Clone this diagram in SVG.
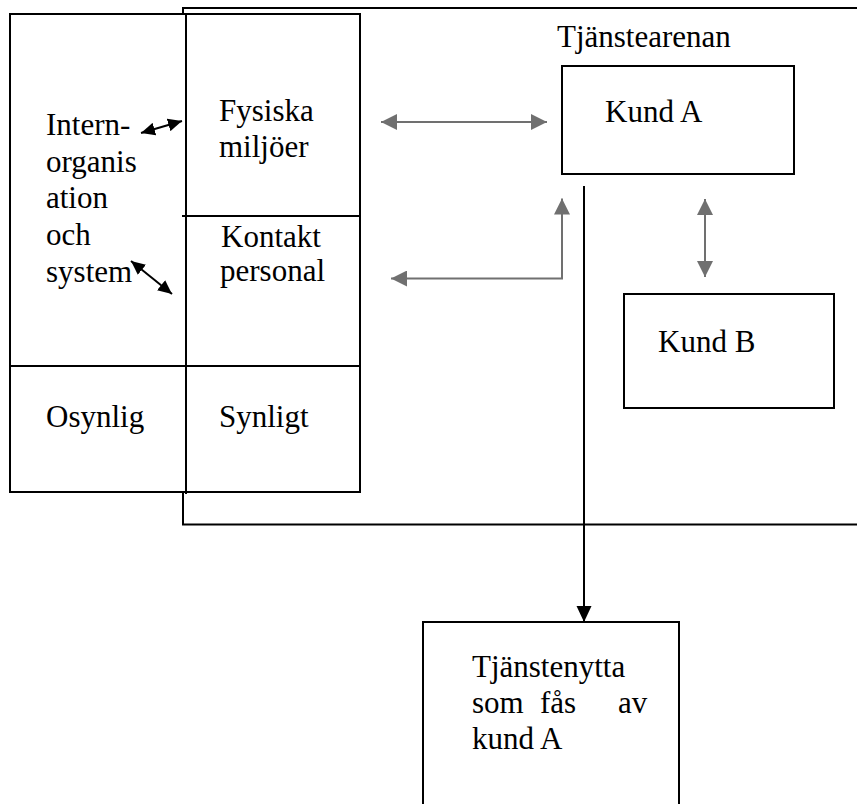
<svg xmlns="http://www.w3.org/2000/svg" width="857" height="804" viewBox="0 0 857 804">
<style>
text{font-family:'Liberation Serif','Times New Roman',Tinos,'Noto Serif','DejaVu Serif',serif;font-size:31px;fill:#000}
.b{fill:none;stroke:#000;stroke-width:2}
.w{fill:#fff;stroke:#000;stroke-width:2}
.g{fill:none;stroke:#707070;stroke-width:2}
.k{fill:none;stroke:#000;stroke-width:2}
</style>
<defs>
<marker id="ag" viewBox="0 0 16 16" refX="16" refY="8" markerWidth="16" markerHeight="16" markerUnits="userSpaceOnUse" orient="auto-start-reverse">
<path d="M0,0 L16,8 L0,16 Z" fill="#707070"/>
</marker>
<marker id="ak" viewBox="0 0 14 13" refX="14" refY="6.5" markerWidth="14" markerHeight="13" markerUnits="userSpaceOnUse" orient="auto-start-reverse">
<path d="M0,0 L14,6.5 L0,13 Z" fill="#000"/>
</marker>
<marker id="ad" viewBox="0 0 16 16" refX="16" refY="8" markerWidth="16" markerHeight="16" markerUnits="userSpaceOnUse" orient="auto">
<path d="M0,0.5 L16,8 L0,15.5 Z" fill="#000"/>
</marker>
</defs>

<g id="arena">
<path class="b" d="M857,8 H183 V524.5 H857"/>
<text x="557" y="47">Tjänstearenan</text>
</g>

<g id="organisation">
<rect class="w" x="10" y="14" width="350" height="478"/>
<line class="b" x1="186" y1="14" x2="186" y2="494"/>
<line class="b" x1="182" y1="216" x2="360" y2="216"/>
<line class="b" x1="10" y1="366" x2="360" y2="366"/>
<text x="46" y="135">Intern-</text>
<text x="46" y="172">organis</text>
<text x="46" y="208">ation</text>
<text x="46" y="245">och</text>
<text x="46" y="282">system</text>
<text x="219" y="121">Fysiska</text>
<text x="219" y="157">miljöer</text>
<text x="221" y="247">Kontakt</text>
<text x="220" y="281">personal</text>
<text x="46" y="427">Osynlig</text>
<text x="219" y="427">Synligt</text>
</g>

<g id="kundA">
<rect class="w" x="562" y="66" width="232" height="108"/>
<text x="605" y="122">Kund A</text>
</g>

<g id="kundB">
<rect class="w" x="624" y="294" width="210" height="114"/>
<text x="658" y="352">Kund B</text>
</g>

<g id="tjanstenytta">
<path class="b" d="M423,804 V622 H679 V804"/>
<text x="472" y="677">Tjänstenytta</text>
<text y="713"><tspan x="472">som</tspan><tspan x="540">fås</tspan><tspan x="618">av</tspan></text>
<text x="472" y="749">kund A</text>
</g>

<g id="connectors">
<line class="g" x1="381" y1="122" x2="547" y2="122" marker-start="url(#ag)" marker-end="url(#ag)"/>
<path class="g" d="M391,278.5 H562 V198.5" marker-start="url(#ag)" marker-end="url(#ag)"/>
<line class="g" x1="705" y1="199" x2="705" y2="277" marker-start="url(#ag)" marker-end="url(#ag)"/>
<line class="k" x1="584" y1="186" x2="584" y2="622" marker-end="url(#ad)"/>
<line class="k" x1="141" y1="133" x2="182" y2="121" marker-start="url(#ak)" marker-end="url(#ak)"/>
<line class="k" x1="131" y1="261" x2="172" y2="294" marker-start="url(#ak)" marker-end="url(#ak)"/>
</g>
</svg>
